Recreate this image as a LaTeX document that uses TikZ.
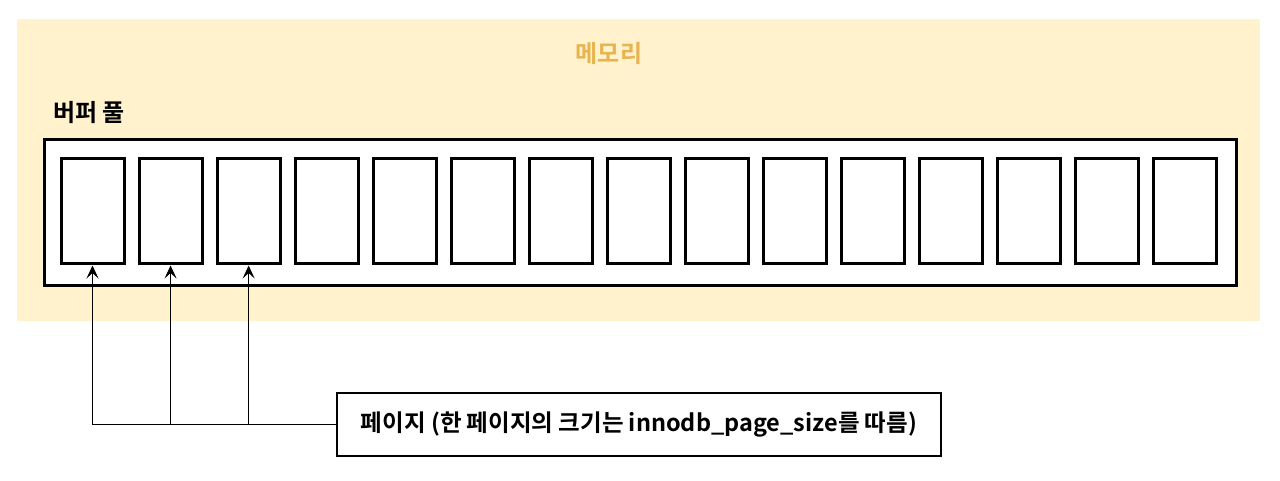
\documentclass[tikz,border=0pt]{standalone}
\usepackage{fontspec}
\newfontfamily\kr{Noto Sans CJK KR Bold}
\usetikzlibrary{arrows.meta}
\definecolor{memfill}{HTML}{FFF2CC}
\definecolor{memtext}{HTML}{E8B450}
\tikzset{
  pagebox/.style={draw=black,line width=3pt,fill=white,minimum width=63pt,minimum height=105pt,inner sep=0pt},
  pointer/.style={draw=black,line width=0.8pt,-{Stealth[length=13pt,width=12pt,inset=5.5pt]}},
}
\begin{document}
\begin{tikzpicture}[x=1pt,y=-1pt]
\useasboundingbox (0,0) rectangle (1280,481);
\fill[white] (0,0) rectangle (1280,481);
\fill[memfill] (17,19) rectangle (1260,321);
\node[font=\kr\fontsize{24}{24}\selectfont,text=memtext,inner sep=0pt] (mem) at (609,54) {메모리};
\node[font=\kr\fontsize{24}{24}\selectfont,anchor=west,inner sep=0pt] (bp) at (53,113) {버퍼 풀};
\draw[line width=3pt,fill=white] (44,140) rectangle (1236,285);
\foreach \i in {0,...,14}{
  \node[pagebox] (p\i) at ({92.5+78.07*\i},211.5) {};
}
\node[draw=black,line width=1.5pt,fill=white,minimum width=604pt,minimum height=63pt,inner sep=0pt,font=\kr\fontsize{23.5}{23.5}\selectfont] (lbl) at (639,424.5) {페이지 (한 페이지의 크기는 innodb\_page\_size를 따름)};
\coordinate (j2) at (p2.south |- lbl.west);
\coordinate (j1) at (p1.south |- lbl.west);
\coordinate (j0) at (p0.south |- lbl.west);
\draw[line width=0.8pt] (lbl.west) -- (j0);
\draw[pointer] (j0) -- (p0.south);
\draw[pointer] (j1) -- (p1.south);
\draw[pointer] (j2) -- (p2.south);
\end{tikzpicture}
\end{document}
